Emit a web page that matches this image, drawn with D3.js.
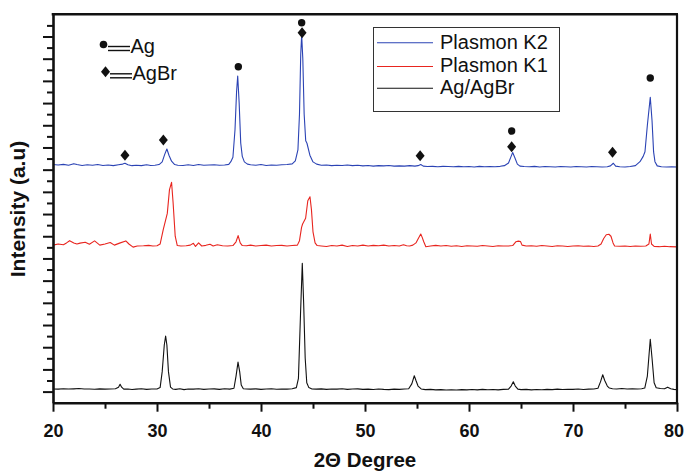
<!DOCTYPE html>
<html><head><meta charset="utf-8">
<script src="https://cdn.jsdelivr.net/npm/d3@7"></script>
<style>
html,body{margin:0;padding:0;background:#fff;}
svg{display:block;font-family:"Liberation Sans",Arial,sans-serif;}
</style></head>
<body><svg id="chart" width="686" height="472"></svg>
<script>
// ---------- data ----------
const seriesNames = ["Plasmon K2", "Plasmon K1", "Ag/AgBr"];
const seriesColors = ["#2b43b4", "#e8251f", "#111111"];

// [2-theta (deg), intensity (a.u.)]
const plasmonK2 = [
[20.0,10230],[20.5,10210],[21.0,10240],[21.5,10200],[22.0,10270],[22.3,10230],[22.8,10190],[23.3,10220],[23.8,10200],[24.3,10230],[24.8,10190],[25.3,10210],[25.8,10180],[26.3,10220],[26.7,10250],[26.92,10290],[27.2,10220],[27.6,10180],[28.0,10200],[28.5,10180],[29.0,10220],[29.4,10190],[29.8,10200],[30.2,10230],[30.5,10350],[30.75,10700],[30.95,10930],[31.15,10650],[31.4,10380],[31.7,10230],[32.0,10200],[32.5,10190],[33.0,10220],[33.5,10190],[34.0,10230],[34.5,10200],[35.0,10210],[35.5,10220],[36.0,10200],[36.5,10210],[36.9,10240],[37.1,10360],[37.3,10560],[37.5,11800],[37.65,13500],[37.76,14220],[37.9,13000],[38.05,11200],[38.2,10600],[38.4,10350],[38.7,10250],[39.0,10220],[39.5,10200],[40.0,10230],[40.5,10190],[41.0,10210],[41.5,10200],[42.0,10220],[42.5,10230],[43.0,10260],[43.3,10400],[43.55,10890],[43.7,12500],[43.82,15200],[43.91,16070],[44.02,15000],[44.15,12500],[44.3,11300],[44.42,11190],[44.7,10650],[45.0,10350],[45.35,10250],[45.8,10200],[46.3,10210],[46.8,10180],[47.3,10200],[47.8,10190],[48.3,10210],[48.8,10180],[49.3,10200],[49.8,10170],[50.3,10190],[50.8,10160],[51.3,10180],[51.8,10170],[52.3,10190],[52.8,10160],[53.3,10170],[53.8,10160],[54.3,10180],[54.8,10160],[55.1,10180],[55.36,10230],[55.6,10160],[56.0,10140],[56.5,10150],[57.0,10130],[57.5,10150],[58.0,10140],[58.5,10130],[59.0,10150],[59.5,10130],[60.0,10140],[60.5,10120],[61.0,10150],[61.5,10130],[62.0,10140],[62.5,10130],[63.0,10150],[63.4,10180],[63.8,10300],[64.05,10600],[64.2,10770],[64.4,10550],[64.65,10250],[64.9,10160],[65.3,10140],[65.8,10130],[66.3,10150],[66.8,10120],[67.3,10140],[67.8,10130],[68.3,10120],[68.8,10140],[69.3,10130],[69.8,10120],[70.3,10140],[70.8,10130],[71.3,10120],[71.8,10140],[72.3,10130],[72.8,10120],[73.3,10130],[73.6,10170],[73.88,10290],[74.1,10160],[74.5,10130],[75.0,10120],[75.5,10140],[76.0,10180],[76.44,10360],[76.75,10600],[76.92,10810],[77.15,12000],[77.43,13260],[77.6,12200],[77.75,10800],[77.88,10360],[78.1,10170],[78.5,10130],[79.0,10120],[79.5,10130],[80.0,10120]
];

const plasmonK1 = [
[20.0,6600],[20.5,6650],[21.0,6620],[21.3,6700],[21.6,6800],[22.0,6700],[22.3,6650],[22.6,6690],[23.1,6730],[23.5,6640],[24.0,6790],[24.5,6600],[25.0,6650],[25.5,6720],[25.9,6600],[26.4,6690],[27.0,6790],[27.3,6650],[27.7,6510],[28.1,6560],[28.7,6570],[29.2,6590],[29.6,6560],[30.0,6570],[30.3,6650],[30.6,7300],[30.99,8030],[31.2,9100],[31.4,9430],[31.55,8500],[31.75,7000],[31.95,6580],[32.3,6560],[32.8,6570],[33.2,6600],[33.5,6680],[33.7,6540],[34.0,6700],[34.3,6560],[34.7,6590],[35.1,6640],[35.4,6560],[35.8,6620],[36.3,6570],[36.8,6560],[37.3,6580],[37.6,6750],[37.8,7030],[38.0,6700],[38.2,6580],[38.6,6570],[39.0,6600],[39.5,6560],[40.0,6580],[40.5,6600],[41.0,6560],[41.5,6580],[42.0,6590],[42.5,6560],[43.0,6580],[43.5,6600],[43.7,6800],[43.9,7400],[44.0,7550],[44.29,7810],[44.5,8600],[44.71,8780],[44.85,8200],[45.0,7200],[45.2,6700],[45.4,6580],[45.8,6560],[46.3,6540],[46.8,6580],[47.3,6560],[47.8,6600],[48.3,6540],[48.8,6580],[49.3,6560],[49.8,6600],[50.3,6560],[50.8,6590],[51.3,6570],[51.8,6600],[52.3,6560],[52.8,6580],[53.3,6560],[53.7,6620],[54.0,6570],[54.3,6560],[54.6,6600],[54.9,6700],[55.1,6880],[55.36,7100],[55.5,6950],[55.65,6750],[55.85,6530],[56.3,6560],[56.8,6590],[57.3,6560],[57.8,6580],[58.3,6550],[58.8,6570],[59.3,6540],[59.8,6570],[60.3,6560],[60.8,6550],[61.3,6580],[61.8,6560],[62.3,6540],[62.8,6570],[63.3,6560],[63.8,6560],[64.2,6580],[64.5,6750],[64.75,6780],[64.95,6760],[65.1,6600],[65.5,6560],[66.0,6570],[66.5,6550],[67.0,6580],[67.5,6560],[68.0,6540],[68.5,6570],[69.0,6560],[69.5,6540],[70.0,6560],[70.5,6570],[71.0,6550],[71.5,6560],[72.0,6540],[72.4,6560],[72.7,6650],[72.95,6900],[73.2,7070],[73.45,7090],[73.65,7000],[73.85,6700],[74.0,6560],[74.5,6550],[75.0,6560],[75.5,6540],[76.0,6560],[76.5,6550],[77.0,6560],[77.3,6650],[77.43,7100],[77.55,6650],[77.8,6540],[78.3,6530],[78.8,6550],[79.3,6530],[80.0,6520]
];

const agAgBr = [
[20.0,120],[20.5,110],[21.0,130],[21.5,115],[22.0,125],[22.5,140],[23.0,115],[23.5,120],[24.0,105],[24.5,125],[25.0,110],[25.5,120],[26.0,130],[26.3,200],[26.45,330],[26.6,200],[26.8,110],[27.2,120],[27.6,95],[28.0,110],[28.5,130],[29.0,100],[29.5,115],[30.0,120],[30.3,180],[30.5,900],[30.7,2100],[30.83,2500],[30.95,2100],[31.1,900],[31.3,200],[31.5,120],[31.8,100],[32.2,130],[32.6,90],[33.0,120],[33.5,110],[34.0,130],[34.5,100],[35.0,115],[35.5,125],[36.0,100],[36.5,130],[37.0,110],[37.4,150],[37.6,700],[37.79,1330],[37.95,900],[38.1,300],[38.3,130],[38.6,120],[39.0,110],[39.5,125],[40.0,100],[40.5,120],[41.0,130],[41.5,105],[42.0,120],[42.5,110],[43.0,130],[43.4,180],[43.6,600],[43.8,3500],[43.97,5780],[44.1,4000],[44.25,1500],[44.4,400],[44.6,180],[44.9,120],[45.3,110],[45.8,125],[46.3,100],[46.8,120],[47.3,110],[47.8,130],[48.3,100],[48.8,115],[49.3,125],[49.8,100],[50.3,110],[50.8,95],[51.3,120],[51.8,100],[52.3,90],[52.8,110],[53.3,100],[53.8,115],[54.2,130],[54.5,350],[54.74,715],[54.9,500],[55.1,250],[55.4,120],[55.8,90],[56.3,100],[56.8,80],[57.3,90],[57.8,70],[58.3,85],[58.8,75],[59.3,90],[59.8,80],[60.3,95],[60.8,80],[61.3,100],[61.8,85],[62.3,95],[62.8,80],[63.3,100],[63.8,110],[64.05,250],[64.26,445],[64.45,250],[64.7,110],[65.0,90],[65.5,100],[66.0,80],[66.5,95],[67.0,85],[67.5,100],[68.0,90],[68.5,110],[69.0,95],[69.5,105],[70.0,100],[70.5,115],[71.0,95],[71.5,110],[72.0,120],[72.4,150],[72.65,450],[72.86,760],[73.05,500],[73.3,250],[73.5,160],[73.8,130],[74.2,120],[74.7,140],[75.2,120],[75.7,130],[76.2,115],[76.6,130],[76.9,160],[77.15,700],[77.43,2360],[77.6,1500],[77.8,400],[78.0,170],[78.4,140],[78.8,130],[79.1,200],[79.4,130],[79.7,100],[80.0,90]
];

// phase markers: [2-theta, intensity]
const agMarkers = [[37.82,14640],[43.91,16620],[64.1,11740],[77.43,14130]];
const agbrMarkers = [[26.92,10650],[30.61,11340],[43.95,16170],[55.3,10630],[64.1,11035],[73.8,10780]];

const xMajorTicks = [20,30,40,50,60,70,80];
const xMinorTicks = [25,35,45,55,65,75];
const yMajorTicks = d3.range(0, 16001, 1000);
const yMinorTicks = d3.range(500, 16501, 1000);

const xTitle = "2\u0398 Degree";
const yTitle = "Intensity (a.u)";
const phaseLegend = [["circle","Ag"],["diamond","AgBr"]];

// ---------- layout ----------
const svg = d3.select("#chart");
const L = 53, R = 677, T = 14.3, B = 402.7;
const x = d3.scaleLinear().domain([20, 80]).range([L, R]);
const y = d3.scaleLinear().domain([-500, 17000]).range([B, T]);

const allSeries = [plasmonK2, plasmonK1, agAgBr];
const line = d3.line().x(d => x(d[0])).y(d => y(d[1]));

svg.append("g").selectAll("path").data(allSeries).join("path")
  .attr("d", line).attr("fill", "none")
  .attr("stroke", (d,i) => seriesColors[i]).attr("stroke-width", 1.1)
  .attr("stroke-linejoin", "round");

// markers
svg.append("g").selectAll("circle").data(agMarkers).join("circle")
  .attr("cx", d => x(d[0])).attr("cy", d => y(d[1])).attr("r", 3.7).attr("fill", "#111");
const diamond = "M0,-5.5L4.5,0L0,5.5L-4.5,0Z";
svg.append("g").selectAll("path").data(agbrMarkers).join("path")
  .attr("transform", d => `translate(${x(d[0])},${y(d[1])})`)
  .attr("d", diamond).attr("fill", "#111");

// axes
const gx = svg.append("g").attr("transform", `translate(0,${B})`);
gx.call(d3.axisBottom(x).tickValues(xMajorTicks).tickSize(9).tickSizeOuter(0).tickFormat(d3.format("d")));
gx.append("g").call(d3.axisBottom(x).tickValues(xMinorTicks).tickSize(6).tickSizeOuter(0).tickFormat(""))
  .select(".domain").remove();
gx.selectAll(".tick line").attr("stroke", "#111").attr("stroke-width", 2);
gx.select(".domain").attr("stroke", "#111").attr("stroke-width", 2.6);
gx.selectAll(".tick text").attr("font-family", "Liberation Sans, Arial, sans-serif")
  .attr("font-size", 18).attr("font-weight", "bold").attr("fill", "#111").attr("dy", "0").attr("y", 34.3)
  .attr("dx", d => d === 80 ? -3.5 : 0);

const gy = svg.append("g").attr("transform", `translate(${L},0)`);
gy.call(d3.axisLeft(y).tickValues(yMajorTicks).tickSize(10).tickSizeOuter(0).tickFormat(""));
gy.append("g").call(d3.axisLeft(y).tickValues(yMinorTicks).tickSize(6).tickSizeOuter(0).tickFormat(""))
  .select(".domain").remove();
gy.selectAll(".tick line").attr("stroke", "#111").attr("stroke-width", 2);
gy.select(".domain").attr("stroke", "#111").attr("stroke-width", 2.6);

// top & right frame
svg.append("line").attr("x1", L-1.3).attr("x2", R+1).attr("y1", T).attr("y2", T)
  .attr("stroke", "#111").attr("stroke-width", 2.6);
svg.append("line").attr("x1", R).attr("x2", R).attr("y1", T).attr("y2", B+1.3)
  .attr("stroke", "#111").attr("stroke-width", 2.2);

// titles
svg.append("text").attr("x", (L+R)/2).attr("y", 466.5).attr("text-anchor", "middle")
  .attr("font-size", 20.5).attr("font-weight", "bold").attr("fill", "#111").text(xTitle);
svg.append("text").attr("transform", "translate(24.5,209) rotate(-90)").attr("text-anchor", "middle")
  .attr("font-size", 21).attr("font-weight", "bold").attr("fill", "#111").text(yTitle);

// phase legend (top-left)
const pl = svg.append("g");
phaseLegend.forEach((p, i) => {
  const cy = 44.5 + i*27.3, sx = i === 0 ? 103.5 : 105.5;
  if (p[0] === "circle") pl.append("circle").attr("cx", sx).attr("cy", cy).attr("r", 3.8).attr("fill", "#111");
  else pl.append("path").attr("transform", `translate(${sx},${cy})`).attr("d", diamond).attr("fill", "#111");
  const ex = sx + 4.5, ew = 22;
  pl.append("line").attr("x1", ex).attr("x2", ex+ew).attr("y1", cy+2).attr("y2", cy+2).attr("stroke", "#111").attr("stroke-width", 1.4);
  pl.append("line").attr("x1", ex).attr("x2", ex+ew).attr("y1", cy+6).attr("y2", cy+6).attr("stroke", "#111").attr("stroke-width", 1.4);
  pl.append("text").attr("x", ex+ew+0.5).attr("y", cy+8.3).attr("font-size", 20).attr("fill", "#111").text(p[1]);
});

// series legend (top-right box)
const lg = svg.append("g");
lg.append("rect").attr("x", 373.5).attr("y", 27.5).attr("width", 186).attr("height", 84)
  .attr("fill", "#fff").attr("stroke", "#333").attr("stroke-width", 1);
seriesNames.forEach((n, i) => {
  const ly = [42.7, 66.5, 88.3][i];
  lg.append("line").attr("x1", 377).attr("x2", 433).attr("y1", ly).attr("y2", ly)
    .attr("stroke", seriesColors[i]).attr("stroke-width", 1.1);
  lg.append("text").attr("x", 440).attr("y", ly + 5.8).attr("font-size", 20).attr("fill", "#111").text(n);
});
</script></body></html>
